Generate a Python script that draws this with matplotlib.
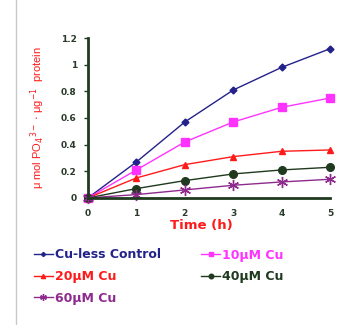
import matplotlib
matplotlib.use('Agg')
import matplotlib.pyplot as plt
from matplotlib.lines import Line2D

plt.rcParams['font.family'] = ['DejaVu Sans']

# Dados
tempo = [0, 1, 2, 3, 4, 5]
controle = [0, 0.27, 0.57, 0.81, 0.98, 1.12]
cu10 = [0, 0.21, 0.42, 0.57, 0.68, 0.75]
cu20 = [0, 0.15, 0.25, 0.31, 0.35, 0.36]
cu40 = [0, 0.07, 0.13, 0.18, 0.21, 0.23]
cu60 = [0, 0.025, 0.06, 0.095, 0.12, 0.14]
nomes = ['Cu-less Control', '10\u00b5M Cu', '20\u00b5M Cu', '40\u00b5M Cu', '60\u00b5M Cu']
y_ticks = [0, 0.2, 0.4, 0.6, 0.8, 1, 1.2]
y_rotulos = ['0', '0.2', '0.4', '0.6', '0.8', '1', '1.2']

series = [controle, cu10, cu20, cu40, cu60]
cores = ['#22228a', '#ff33ff', '#ff1a1a', '#1f3a1f', '#8e2a8e']
marcadores = ['D', 's', '^', 'o', (6, 2, 0)]
tamanhos = [3.5, 5.5, 5, 5.5, 8]

fig = plt.figure(figsize=(3.49, 3.25), dpi=100)
ax = fig.add_axes([0.252, 0.391, 0.694, 0.492])

for ys, c, m, s in zip(series, cores, marcadores, tamanhos):
	ax.plot(tempo, ys, color=c, marker=m, markersize=s, linewidth=1,
			markeredgecolor=c, markerfacecolor=c, clip_on=False)

ax.set_xlim(0, 5)
ax.set_ylim(0, 1.2)
ax.set_yticks(y_ticks)
ax.set_yticklabels(y_rotulos)
ax.set_xticks(tempo)

for lado in ['top', 'right']:
	ax.spines[lado].set_visible(False)
for lado in ['left', 'bottom']:
	ax.spines[lado].set_color('#1f3a1f')
	ax.spines[lado].set_linewidth(2)

ax.tick_params(axis='y', direction='out', length=3, width=1, color='#1f3a1f',
			   labelsize=6.5, labelcolor='#2a3a2a', pad=5)
ax.tick_params(axis='x', length=0, labelsize=6.5, labelcolor='#2a3a2a', pad=8)
for lbl in ax.get_xticklabels() + ax.get_yticklabels():
	lbl.set_fontweight('bold')

ax.set_xlabel('Time (h)', color='#ff1a1a', fontsize=9.5, fontweight='bold')
ax.xaxis.set_label_coords(0.47, -0.13)
ax.set_ylabel(r'$\mathregular{\mu}$ mol PO$_4$$^{3-}$ $\cdot$ $\mathregular{\mu}$g$^{-1}$  protein',
			  color='#ff1a1a', fontsize=8, labelpad=10,
			  fontfamily=['Liberation Sans', 'DejaVu Sans'])

# Legenda: Excel preenche por linha, matplotlib por coluna -> reordenar
handles = [Line2D([], [], color=c, marker=m, markersize=s * 0.6, linewidth=1,
				  markeredgecolor=c, markerfacecolor=c)
		   for c, m, s in zip(cores, marcadores, tamanhos)]
ordem = [0, 2, 4, 1, 3]
leg = fig.legend([handles[i] for i in ordem], [nomes[i] for i in ordem],
				 loc='upper left', bbox_to_anchor=(0.065, 0.27), ncol=2, frameon=False,
				 handlelength=1.5, handletextpad=0.2, columnspacing=3.2, labelspacing=0.69,
				 prop={'weight': 'bold', 'size': 9})
for txt, i in zip(leg.get_texts(), ordem):
	txt.set_color(cores[i])

# linha cinza vertical à esquerda
fig.add_artist(Line2D([0.046, 0.046], [0, 1], color='#c8c8c8', linewidth=1))

fig.savefig('out.png', dpi=100)
